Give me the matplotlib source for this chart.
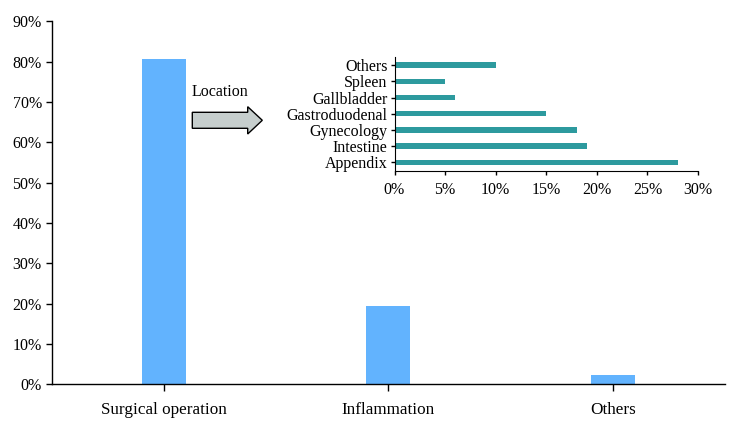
import matplotlib
matplotlib.use('Agg')
import matplotlib.pyplot as plt
import matplotlib.patches as patches
from matplotlib.ticker import PercentFormatter

# Main chart data
categories = ['Surgical operation', 'Inflammation', 'Others']
shares = [0.807, 0.195, 0.022]

# Inset data (location breakdown), bottom to top
locations = ['Appendix', 'Intestine', 'Gynecology', 'Gastroduodenal', 'Gallbladder', 'Spleen', 'Others']
loc_shares = [0.28, 0.19, 0.18, 0.15, 0.06, 0.05, 0.10]

W, H = 730, 426
plt.rcParams['font.family'] = ['Liberation Serif', 'DejaVu Serif']
plt.rcParams['font.size'] = 11

fig = plt.figure(figsize=(W / 100, H / 100), dpi=100)

def fig_box(x0, y0, x1, y1):
    # pixel box (top-left origin) -> figure fraction rect
    return [x0 / W, 1 - y1 / H, (x1 - x0) / W, (y1 - y0) / H]

# Main axes
ax = fig.add_axes(fig_box(51.5, 21.4, 725, 384.3))
ax.bar(range(len(categories)), shares, width=0.195, color='#62B3FE')
ax.set_xlim(-0.5, len(categories) - 0.5)
ax.set_ylim(0, 0.9)
ax.set_yticks([i / 10 for i in range(10)])
ax.yaxis.set_major_formatter(PercentFormatter(1.0, decimals=0))
ax.set_xticks(range(len(categories)))
ax.set_xticklabels(categories)
for s in ['top', 'right']:
    ax.spines[s].set_visible(False)
ax.spines['left'].set_linewidth(1.0)
ax.spines['bottom'].set_linewidth(1.0)
ax.tick_params(axis='y', length=4, width=1, pad=3, labelsize=11.5)
ax.tick_params(axis='x', length=5, width=1, pad=8, labelsize=12.3)

# Inset axes
ins = fig.add_axes(fig_box(394.5, 56.7, 698, 170.7))
ins.barh(range(len(locations)), loc_shares, height=0.33, color='#2D9A9E')
ins.set_ylim(-0.52, len(locations) - 0.48)
ins.set_xlim(0, 0.30)
ins.set_xticks([i * 0.05 for i in range(7)])
ins.xaxis.set_major_formatter(PercentFormatter(1.0, decimals=0))
ins.set_yticks(range(len(locations)))
ins.set_yticklabels(locations)
for s in ['top', 'right']:
    ins.spines[s].set_visible(False)
ins.tick_params(axis='y', length=3, width=1, pad=2, labelsize=11.5)
ins.tick_params(axis='x', length=3, width=1, pad=5, labelsize=11.5)
ins.patch.set_alpha(0)

# Arrow and its label
pts = [(192.3, 112.3), (247.7, 112.3), (247.7, 106.7), (262.3, 120.3),
       (247.7, 134.0), (247.7, 128.3), (192.3, 128.3)]
arrow = patches.Polygon([(x / W, 1 - y / H) for x, y in pts], closed=True,
                        transform=fig.transFigure, facecolor='#C6CECD',
                        edgecolor='black', linewidth=1.0)
fig.add_artist(arrow)
fig.text(192 / W, 1 - 92.5 / H, 'Location', ha='left', va='center', fontsize=11.5)

fig.savefig('out.png', dpi=100, facecolor='white')
